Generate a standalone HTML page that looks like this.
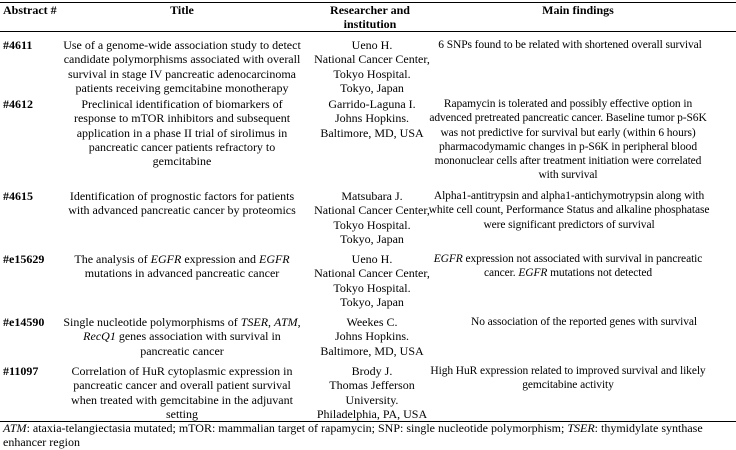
<!DOCTYPE html>
<html><head><meta charset="utf-8"><style>
body{margin:0;width:736px;height:450px;background:#fff;position:relative;overflow:hidden;font-family:"Liberation Serif",serif;font-size:12px;color:#000;line-height:14.3px}
.b{position:absolute;white-space:nowrap;transform:translateX(-50%);text-align:center}
.f{font-size:11.5px;letter-spacing:-0.1px}
.l{position:absolute;white-space:nowrap}
.h{font-weight:bold}
.ln{position:absolute;left:0;width:736px;height:1px;background:#000}
</style></head><body>
<div class="ln" style="top:2px"></div>
<div class="ln" style="top:31px"></div>
<div class="ln" style="top:421px"></div>
<div class="l h" style="left:3px;top:3px">Abstract #</div>
<div class="b h" style="left:182px;top:3px">Title</div>
<div class="b h" style="left:370px;top:3px">Researcher and<br>institution</div>
<div class="b h" style="left:578px;top:3px">Main findings</div>

<div class="l h" style="left:3px;top:38px">#4611</div>
<div class="b" style="left:182px;top:38px">Use of a genome-wide association study to detect<br>candidate polymorphisms associated with overall<br>survival in stage IV pancreatic adenocarcinoma<br>patients receiving gemcitabine monotherapy</div>
<div class="b" style="left:372px;top:38px">Ueno H.<br>National Cancer Center,<br>Tokyo Hospital.<br>Tokyo, Japan</div>
<div class="b f" style="left:570px;top:38px">6 SNPs found to be related with shortened overall survival</div>

<div class="l h" style="left:3px;top:97px">#4612</div>
<div class="b" style="left:182px;top:97px">Preclinical identification of biomarkers of<br>response to mTOR inhibitors and subsequent<br>application in a phase II trial of sirolimus in<br>pancreatic cancer patients refractory to<br>gemcitabine</div>
<div class="b" style="left:372px;top:97px">Garrido-Laguna I.<br>Johns Hopkins.<br>Baltimore, MD, USA</div>
<div class="b f" style="left:568px;top:97px">Rapamycin is tolerated and possibly effective option in<br>advenced pretreated pancreatic cancer. Baseline tumor p-S6K<br>was not predictive for survival but early (within 6 hours)<br>pharmacodymamic changes in p-S6K in peripheral blood<br>mononuclear cells after treatment initiation were correlated<br>with survival</div>

<div class="l h" style="left:3px;top:189px">#4615</div>
<div class="b" style="left:182px;top:189px">Identification of prognostic factors for patients<br>with advanced pancreatic cancer by proteomics</div>
<div class="b" style="left:372px;top:189px">Matsubara J.<br>National Cancer Center,<br>Tokyo Hospital.<br>Tokyo, Japan</div>
<div class="b f" style="left:569px;top:189px">Alpha1-antitrypsin and alpha1-antichymotrypsin along with<br>white cell count, Performance Status and alkaline phosphatase<br>were significant predictors of survival</div>

<div class="l h" style="left:3px;top:252px">#e15629</div>
<div class="b" style="left:182px;top:252px">The analysis of <i>EGFR</i> expression and <i>EGFR</i><br>mutations in advanced pancreatic cancer</div>
<div class="b" style="left:372px;top:252px">Ueno H.<br>National Cancer Center,<br>Tokyo Hospital.<br>Tokyo, Japan</div>
<div class="b f" style="left:568px;top:252px"><i>EGFR</i> expression not associated with survival in pancreatic<br>cancer. <i>EGFR</i> mutations not detected</div>

<div class="l h" style="left:3px;top:315px">#e14590</div>
<div class="b" style="left:182px;top:315px">Single nucleotide polymorphisms of <i>TSER</i>, <i>ATM</i>,<br><i>RecQ1</i> genes association with survival in<br>pancreatic cancer</div>
<div class="b" style="left:372px;top:315px">Weekes C.<br>Johns Hopkins.<br>Baltimore, MD, USA</div>
<div class="b f" style="left:584px;top:315px">No association of the reported genes with survival</div>

<div class="l h" style="left:3px;top:364px">#11097</div>
<div class="b" style="left:182px;top:364px">Correlation of HuR cytoplasmic expression in<br>pancreatic cancer and overall patient survival<br>when treated with gemcitabine in the adjuvant<br>setting</div>
<div class="b" style="left:372px;top:364px">Brody J.<br>Thomas Jefferson<br>University.<br>Philadelphia, PA, USA</div>
<div class="b f" style="left:568px;top:364px">High HuR expression related to improved survival and likely<br>gemcitabine activity</div>

<div class="l" style="left:3px;top:421px"><i>ATM</i>: ataxia-telangiectasia mutated; mTOR: mammalian target of rapamycin; SNP: single nucleotide polymorphism; <i>TSER</i>: thymidylate synthase<br>enhancer region</div>
</body></html>
